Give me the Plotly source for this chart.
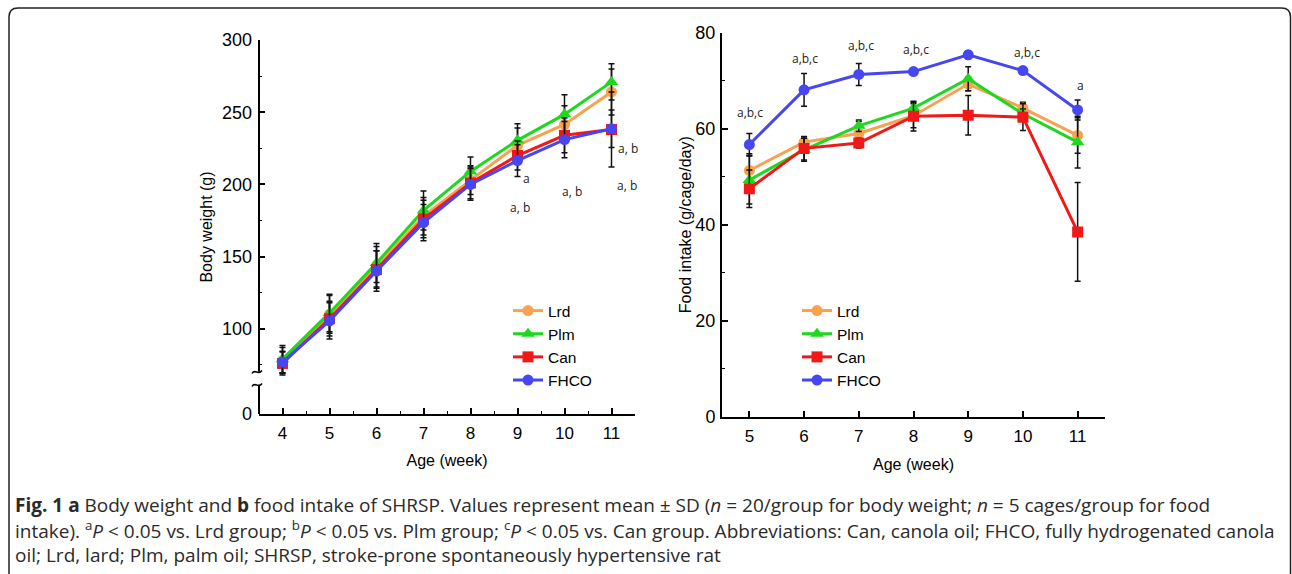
import plotly.graph_objects as go

W, H = 1292, 574

# ---------------- data ----------------
series = ["Lrd", "Plm", "Can", "FHCO"]
colors = {"Lrd": "#F8A150", "Plm": "#1ED81E", "Can": "#F21818", "FHCO": "#4646F2"}
symbols = {"Lrd": "circle", "Plm": "triangle-up", "Can": "square", "FHCO": "circle"}

# (a) body weight
bw_weeks = [4, 5, 6, 7, 8, 9, 10, 11]
bw_lrd = [78, 110, 143, 178, 203, 227, 241.5, 264]
bw_plm = [79, 111, 145.5, 182, 209, 230.5, 248.5, 271]
bw_can = [76, 107, 141, 176, 201, 220, 234, 238]
bw_fhco = [77, 105.5, 140, 173.5, 200, 216.5, 231, 238.5]
bw_lrd_sd = [9, 13, 14, 13, 10, 12, 13, 16]
bw_plm_sd = [9.5, 13, 13.5, 13.5, 10, 11.5, 13.5, 12.5]
bw_can_sd = [8, 12, 13, 13, 11, 10, 12, 26]
bw_fhco_sd = [7.5, 12.5, 14, 12.5, 11, 11, 12.5, 13]
bw_tick_vals = [100, 150, 200, 250, 300]
bw_sig_text = ["a", "a, b", "a, b", "a, b", "a, b"]
bw_sig_x = [9.2, 9.05, 10.16, 11.35, 11.33]
bw_sig_y = [204, 184, 195, 225, 199]

# (b) food intake
fi_weeks = [5, 6, 7, 8, 9, 10, 11]
fi_lrd = [51.3, 57.2, 59.0, 62.7, 69.3, 64.3, 58.6]
fi_plm = [49.3, 55.6, 60.6, 64.3, 70.4, 63.1, 57.2]
fi_can = [47.5, 55.9, 57.0, 62.6, 62.8, 62.4, 38.5]
fi_fhco = [56.7, 68.1, 71.3, 71.9, 75.4, 72.1, 63.9]
fi_lrd_sd = [3.5, 1.2, 2.5, 2.5, 1.4, 1.2, 3.7]
fi_plm_sd = [5.0, 2.4, 1.2, 1.2, 2.5, 1.0, 5.4]
fi_can_sd = [3.9, 2.4, 1.0, 3.1, 4.1, 2.8, 10.3]
fi_fhco_sd = [2.3, 3.4, 2.3, 0.5, 0.8, 0.5, 2.1]
fi_sig_text = ["a,b,c", "a,b,c", "a,b,c", "a,b,c", "a,b,c", "a"]
fi_sig_x = [5.01, 6.02, 7.04, 8.05, 10.07, 11.06]
fi_sig_y = [63.3, 74.7, 77.4, 76.5, 75.9, 69.1]

bw = {"Lrd": (bw_lrd, bw_lrd_sd), "Plm": (bw_plm, bw_plm_sd),
      "Can": (bw_can, bw_can_sd), "FHCO": (bw_fhco, bw_fhco_sd)}
fi = {"Lrd": (fi_lrd, fi_lrd_sd), "Plm": (fi_plm, fi_plm_sd),
      "Can": (fi_can, fi_can_sd), "FHCO": (fi_fhco, fi_fhco_sd)}

caption_lines = [
    "<b>Fig. 1</b> <b>a</b> Body weight and <b>b</b> food intake of SHRSP. Values represent mean ± SD (<i>n</i> = 20/group for body weight; <i>n</i> = 5 cages/group for food",
    "intake). <sup>a</sup><i>P</i> &lt; 0.05 vs. Lrd group; <sup>b</sup><i>P</i> &lt; 0.05 vs. Plm group; <sup>c</sup><i>P</i> &lt; 0.05 vs. Can group. Abbreviations: Can, canola oil; FHCO, fully hydrogenated canola",
    "oil; Lrd, lard; Plm, palm oil; SHRSP, stroke-prone spontaneously hypertensive rat",
]


def px(x):
    return x / W


def py(y):
    return 1 - y / H


BW_FLOOR = 41  # broken axis: "0" drawn at this level
sizes = {"circle": 11, "triangle-up": 12, "square": 11}

fig = go.Figure()
for s in series:
    vals, sd = bw[s]
    fig.add_trace(go.Scatter(
        x=bw_weeks, y=vals, name=s, mode="lines+markers",
        line=dict(color=colors[s], width=3),
        marker=dict(symbol=symbols[s], size=sizes[symbols[s]], color=colors[s]),
        error_y=dict(type="data", array=sd, color="#111111", thickness=1.5, width=3),
        xaxis="x", yaxis="y", legend="legend"))
for s in series:
    vals, sd = fi[s]
    fig.add_trace(go.Scatter(
        x=fi_weeks, y=vals, name=s, mode="lines+markers",
        line=dict(color=colors[s], width=3),
        marker=dict(symbol=symbols[s], size=sizes[symbols[s]], color=colors[s]),
        error_y=dict(type="data", array=sd, color="#111111", thickness=1.5, width=3),
        xaxis="x2", yaxis="y2", legend="legend2"))

tickfont = dict(family="Liberation Sans", size=18, color="black")
xtickfont = dict(family="Liberation Sans", size=17, color="black")
titlefont = dict(family="Liberation Sans", size=16, color="black")

axis_common = dict(showgrid=False, zeroline=False, ticks="inside", ticklen=6,
                   tickwidth=1.5, tickcolor="black", automargin=False)

legend_font = dict(family="Liberation Sans", size=15.5, color="black")

fig.update_layout(
    width=W, height=H, margin=dict(l=0, r=0, t=0, b=0, autoexpand=False),
    paper_bgcolor="white", plot_bgcolor="white",
    xaxis=dict(domain=[px(259), px(635)], range=[3.5, 11.5], tickvals=bw_weeks,
               showline=True, linewidth=2, linecolor="black", tickfont=xtickfont,
               ticklabelstandoff=3,
               minor=dict(ticks="inside", ticklen=3, tickwidth=1.2, tickcolor="black", dtick=0.5, tick0=3.5),
               title=dict(text="Age (week)", font=titlefont, standoff=12),
               anchor="y", **axis_common),
    yaxis=dict(domain=[py(414), py(40)], range=[BW_FLOOR, 300],
               tickvals=[BW_FLOOR] + bw_tick_vals,
               ticktext=["0"] + [str(v) for v in bw_tick_vals],
               showline=False, tickfont=tickfont, ticklabelstandoff=6,
               minor=dict(ticks="inside", ticklen=3, tickwidth=1.2, tickcolor="black",
                          tickvals=[75, 125, 175, 225, 275]),
               title=dict(text="Body weight (g)", font=titlefont, standoff=5),
               anchor="x", **axis_common),
    xaxis2=dict(domain=[px(722), px(1105)], range=[4.5, 11.5], tickvals=fi_weeks,
                showline=True, linewidth=2, linecolor="black", tickfont=xtickfont,
                ticklabelstandoff=3,
                title=dict(text="Age (week)", font=titlefont, standoff=14),
                anchor="y2", **axis_common),
    yaxis2=dict(domain=[py(416.7), py(32.7)], range=[0, 80], tickvals=[0, 20, 40, 60, 80],
                showline=True, linewidth=2, linecolor="black", tickfont=tickfont,
                ticklabelstandoff=1,
                minor=dict(ticks="inside", ticklen=3, tickwidth=1.2, tickcolor="black",
                           tickvals=[10, 30, 50, 70]),
                title=dict(text="Food intake (g/cage/day)", font=titlefont, standoff=0),
                anchor="x2", **axis_common),
    legend=dict(x=px(508), y=py(294), xanchor="left", yanchor="top", font=legend_font,
                bgcolor="rgba(0,0,0,0)", tracegroupgap=0),
    legend2=dict(x=px(797), y=py(294), xanchor="left", yanchor="top", font=legend_font,
                 bgcolor="rgba(0,0,0,0)", tracegroupgap=0),
    showlegend=True,
)

# broken y-axis of panel a
scale_a = 374 / (300 - BW_FLOOR)
brk_hi = 100 - (372 - 329) / scale_a
brk_lo = 100 - (385 - 329) / scale_a
fig.add_shape(type="line", xref="x domain", yref="y", x0=0, x1=0, y0=300, y1=brk_hi,
              line=dict(color="black", width=2))
fig.add_shape(type="line", xref="x domain", yref="y", x0=0, x1=0, y0=brk_lo, y1=BW_FLOOR,
              line=dict(color="black", width=2))
for yy in (372, 385):
    path = (f"M {px(252)},{py(yy + 1.5)} C {px(255)},{py(yy - 4)} {px(258)},{py(yy + 4)} "
            f"{px(262)},{py(yy - 1.5)}")
    fig.add_shape(type="path", xref="paper", yref="paper", path=path,
                  line=dict(color="black", width=1.5))

# significance labels
for t, x, y in zip(bw_sig_text, bw_sig_x, bw_sig_y):
    fig.add_annotation(x=x, y=y, xref="x", yref="y", text=t, showarrow=False,
                       font=dict(family="Open Sans", size=12, color="#222222"))
for t, x, y in zip(fi_sig_text, fi_sig_x, fi_sig_y):
    fig.add_annotation(x=x, y=y, xref="x2", yref="y2", text=t, showarrow=False,
                       font=dict(family="Open Sans", size=12, color="#222222"))

# caption
for i, line in enumerate(caption_lines):
    fig.add_annotation(x=px(13), y=py(505 + 25 * i), xref="paper", yref="paper",
                       xanchor="left", yanchor="middle", text=line, showarrow=False, align="left",
                       font=dict(family="Open Sans", size=19, color="#2a2a2a"))

# rounded frame
x0, x1, yt, yb = px(9), px(1290.5), py(8), py(582)
rx, ry = 9 / W, 9 / H
frame = (f"M {x0},{yb + ry} L {x0},{yt - ry} Q {x0},{yt} {x0 + rx},{yt} "
         f"L {x1 - rx},{yt} Q {x1},{yt} {x1},{yt - ry} L {x1},{yb + ry} "
         f"Q {x1},{yb} {x1 - rx},{yb} L {x0 + rx},{yb} Q {x0},{yb} {x0},{yb + ry} Z")
fig.add_shape(type="path", xref="paper", yref="paper", path=frame,
              line=dict(color="#222222", width=1.5))

fig.write_html("out.html", config={"displayModeBar": False},
               post_script="document.body.style.margin='0px';document.body.style.overflow='hidden';")
